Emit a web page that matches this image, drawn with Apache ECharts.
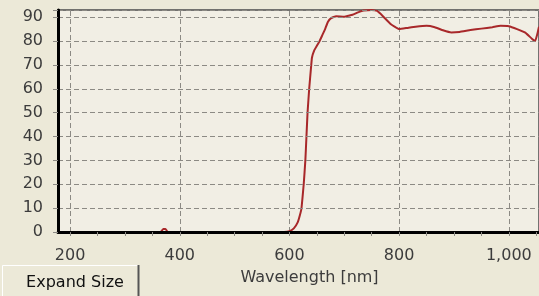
<!DOCTYPE html>
<html>
<head>
<meta charset="utf-8">
<script src="https://cdn.jsdelivr.net/npm/echarts@6/dist/echarts.min.js"></script>
<style>
  html, body { margin: 0; padding: 0; background: #ECE9D8; }
  #chart { width: 539px; height: 296px; }
</style>
</head>
<body>
<div id="chart"></div>
<script>
// transmission spectrum
const wavelengths = [178, 365, 370, 374, 378, 590, 600, 608, 615, 619, 622, 626, 629, 631, 633, 636, 639, 641, 645, 650, 655, 660, 665, 670, 676, 685, 700, 708, 715, 725, 735, 750, 760, 770, 785, 800, 815, 830, 850, 865, 880, 895, 910, 930, 950, 970, 985, 1000, 1015, 1030, 1042, 1048, 1052, 1055]
const transmission = [0, 0, 1.3, 1.3, 0, 0, 0.3, 1.5, 4, 7, 10, 20, 30, 40, 50, 60, 68, 73, 76, 78, 80, 82.5, 85, 88, 89.6, 90.4, 90.2, 90.6, 91, 92, 92.8, 93, 92.6, 90.5, 87, 85, 85.5, 86, 86.4, 85.8, 84.5, 83.6, 83.8, 84.6, 85.2, 85.8, 86.4, 86.2, 85, 83.5, 81, 80, 83, 86]
const labelTicks = [200, 400, 600, 800, 1000]
const minorTicks = [200, 250, 300, 350, 400, 450, 500, 550, 600, 650, 700, 750, 800, 850, 900, 950, 1000, 1050]

const chart = echarts.init(document.getElementById('chart'))
const font = 'DejaVu Sans'
const gridDash = { color: '#8c8a84', type: [5, 3], width: 1 }

chart.setOption({
  backgroundColor: '#ECE9D8',
  animation: false,
  grid: {
    left: 58, top: 10, right: 0, bottom: 64,
    show: true,
    backgroundColor: '#F1EEE4',
    borderColor: '#4a4a4a',
    borderWidth: 1.5
  },
  xAxis: {
    type: 'value',
    min: 178,
    max: 1055,
    z: 10,
    name: 'Wavelength [nm]',
    nameLocation: 'middle',
    nameGap: 38,
    nameTextStyle: { fontFamily: font, fontSize: 16, color: '#3c3c3c', padding: [0, 0, 0, 22] },
    axisLine: { lineStyle: { color: '#000', width: 3 } },
    axisTick: { customValues: minorTicks, length: 4, lineStyle: { color: '#8c8a84' } },
    axisLabel: {
      customValues: labelTicks,
      margin: 16,
      fontFamily: font, fontSize: 16, color: '#3c3c3c',
      formatter: v => v >= 1000 ? Math.floor(v / 1000) + ',' + String(v % 1000).padStart(3, '0') : String(v)
    },
    splitLine: { show: false }
  },
  yAxis: {
    type: 'value',
    min: 0,
    max: 93,
    interval: 10,
    z: 10,
    axisLine: { show: true, lineStyle: { color: '#000', width: 3 } },
    axisTick: { show: true, length: 5, lineStyle: { color: '#8c8a84' } },
    axisLabel: {
      margin: 15,
      fontFamily: font, fontSize: 16, color: '#3c3c3c',
      formatter: v => v % 10 === 0 ? String(v) : ''
    },
    splitLine: { show: true, lineStyle: gridDash }
  },
  series: [{
    type: 'line',
    data: wavelengths.map((w, i) => [w, transmission[i]]),
    showSymbol: false,
    smooth: 0.1,
    clip: true,
    z: 5,
    lineStyle: { color: '#A8282A', width: 2 },
    // vertical dashed grid at the labelled wavelengths
    markLine: {
      silent: true,
      symbol: 'none',
      z: 1,
      label: { show: false },
      lineStyle: gridDash,
      emphasis: { disabled: true },
      data: labelTicks.map(v => ({ xAxis: v }))
    }
  }],
  graphic: [
    {
      type: 'rect',
      left: 2, top: 265,
      shape: { width: 136, height: 33 },
      style: { fill: '#ECE9D8', stroke: '#ffffff', lineWidth: 1 }
    },
    {
      type: 'line',
      shape: { x1: 138.5, y1: 265, x2: 138.5, y2: 296 },
      style: { stroke: '#555', lineWidth: 2 }
    },
    {
      type: 'text',
      x: 75, y: 283,
      style: {
        text: 'Expand Size',
        font: '16px "DejaVu Sans"',
        fill: '#111',
        textAlign: 'center',
        textVerticalAlign: 'middle'
      }
    }
  ]
})
</script>
</body>
</html>
